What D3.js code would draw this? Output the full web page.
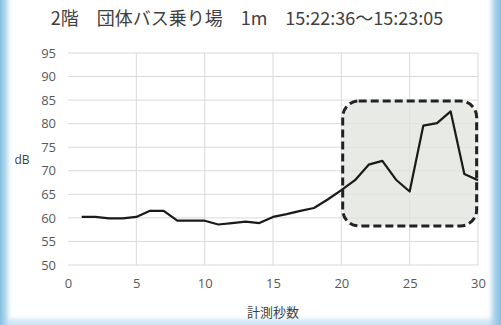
<!DOCTYPE html>
<html>
<head>
<meta charset="utf-8">
<script src="https://cdn.jsdelivr.net/npm/d3@7"></script>
<style>
  body { margin: 0; background: #fff; }
  svg { display: block; }
</style>
</head>
<body>
<svg id="chart" width="501" height="325"></svg>
<script>
// seconds measured
const seconds = d3.range(1, 31)
// sound level in dB for each second
const levels = [60.2, 60.2, 59.9, 59.9, 60.2, 61.5, 61.5, 59.4, 59.4, 59.4,
  58.6, 58.9, 59.2, 58.9, 60.2, 60.8, 61.5, 62.1, 63.9, 65.9,
  68.0, 71.3, 72.1, 68.1, 65.6, 79.6, 80.1, 82.6, 69.3, 68.0]
// tick labels
const xTicks = [0, 5, 10, 15, 20, 25, 30]
const yTicks = [50, 55, 60, 65, 70, 75, 80, 85, 90, 95]
// highlighted region (seconds / dB)
const boxX = [20.1, 29.9]
const boxY = [58.3, 84.8]

const title = '2階\u3000団体バス乗り場\u30001m\u300015:22:36～15:23:05'

function makeChart() {
  const svg = d3.select('#chart')
  const width = 501
  const height = 325
  const margin = {top: 53, left: 68, right: 23, bottom: 60}

  // blue frame background
  const defs = svg.append('defs')
  const grad = defs.append('linearGradient').attr('id', 'bg')
  grad.append('stop').attr('offset', '0%').attr('stop-color', '#86bfe2')
  grad.append('stop').attr('offset', '1.8%').attr('stop-color', '#cfe6f3')
  grad.append('stop').attr('offset', '97.5%').attr('stop-color', '#cfe6f3')
  grad.append('stop').attr('offset', '100%').attr('stop-color', '#86bfe2')
  defs.append('filter').attr('id', 'soft')
    .append('feGaussianBlur').attr('stdDeviation', 2)

  svg.append('rect').attr('width', width).attr('height', height).attr('fill', 'url(#bg)')
  svg.append('rect').attr('x', 9).attr('y', -10).attr('width', 482).attr('height', 329)
    .attr('fill', '#fff').attr('filter', 'url(#soft)')

  const x = d3.scaleLinear().domain([0, 30]).range([margin.left, width - margin.right])
  const y = d3.scaleLinear().domain([50, 95]).range([height - margin.bottom, margin.top])

  // grid lines
  svg.append('g').selectAll('line.h').data(yTicks).join('line')
    .attr('x1', x(0)).attr('x2', x(30))
    .attr('y1', d => y(d)).attr('y2', d => y(d))
    .attr('stroke', '#d9d9d9').attr('stroke-width', 1)
  svg.append('g').selectAll('line.v').data(xTicks.slice(1)).join('line')
    .attr('x1', d => x(d)).attr('x2', d => x(d))
    .attr('y1', y(50)).attr('y2', y(95))
    .attr('stroke', '#d9d9d9').attr('stroke-width', 1)

  // highlighted box
  svg.append('rect')
    .attr('x', x(boxX[0])).attr('y', y(boxY[1]))
    .attr('width', x(boxX[1]) - x(boxX[0])).attr('height', y(boxY[0]) - y(boxY[1]))
    .attr('rx', 16).attr('ry', 16)
    .attr('fill', '#dfe3dc').attr('fill-opacity', 0.75)
    .attr('stroke', '#222').attr('stroke-width', 3)
    .attr('stroke-dasharray', '8,4')

  // axes
  const axisX = d3.axisBottom(x).tickValues(xTicks).tickSize(0).tickPadding(14)
  const axisY = d3.axisLeft(y).tickValues(yTicks).tickSize(0).tickPadding(12)
  svg.append('g').attr('transform', `translate(0,${y(50)})`).call(axisX)
  svg.append('g').attr('transform', `translate(${x(0)},0)`).call(axisY)
  svg.selectAll('.domain').remove()
  svg.selectAll('.tick text')
    .attr('font-family', '"Open Sans", "Noto Sans", sans-serif')
    .attr('font-size', 13).attr('fill', '#595959')

  // line
  const line = d3.line().x((d, i) => x(seconds[i])).y(d => y(d))
  svg.append('path').datum(levels).attr('d', line)
    .attr('fill', 'none').attr('stroke', '#1a1a1a').attr('stroke-width', 2.2)
    .attr('stroke-linejoin', 'round')

  // titles
  const jp = '"Noto Sans CJK JP", sans-serif'
  svg.append('text').text(title)
    .attr('x', 247).attr('y', 25).attr('text-anchor', 'middle')
    .attr('font-family', jp).attr('font-size', 18).attr('fill', '#404040')
  svg.append('text').text('計測秒数')
    .attr('x', 273).attr('y', 317).attr('text-anchor', 'middle')
    .attr('font-family', jp).attr('font-size', 13).attr('fill', '#404040')
  svg.append('text').text('dB')
    .attr('x', 22).attr('y', 164).attr('text-anchor', 'middle')
    .attr('font-family', '"Open Sans", sans-serif').attr('font-size', 12).attr('fill', '#404040')
}

window.onload = makeChart
</script>
</body>
</html>
